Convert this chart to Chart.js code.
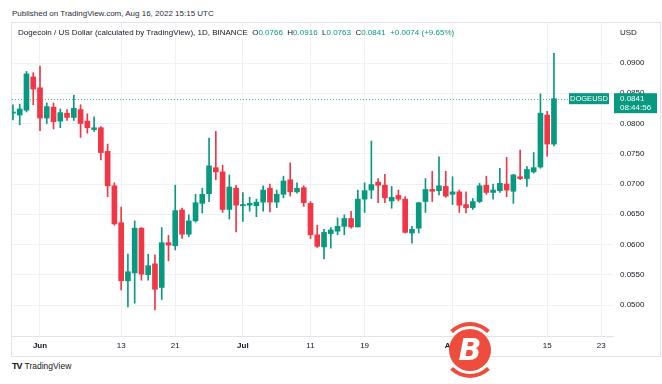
<!DOCTYPE html>
<html>
<head>
<meta charset="utf-8">
<script src="https://cdn.jsdelivr.net/npm/chart.js@4.4.0/dist/chart.umd.min.js"></script>
<style>
  body { margin: 0; width: 662px; height: 384px; background: #fff; position: relative; overflow: hidden;
         font-family: "Liberation Sans", Arial, sans-serif; color: #131722; }
  #published { position: absolute; left: 12px; top: 9px; font-size: 8px; color: #2a2e39; }
  #frame { position: absolute; left: 11px; top: 22px; width: 648px; height: 333px; border: 1px solid #e0e3eb; }
  #chartBox { position: absolute; left: 12px; top: 23px; }
  #legend { position: absolute; left: 18px; top: 28px; font-size: 8px; white-space: pre; color: #131722; }
  #legend .g { color: #089981; }
  #usd { position: absolute; left: 620px; top: 28px; font-size: 8px; }
  #logo { position: absolute; left: 12px; top: 361px; font-size: 8.5px; color: #131722; }
  #logo b { font-size: 9px; letter-spacing: -1px; margin-right: 3px; font-weight: 900; }
  #ring { position: absolute; left: 442px; top: 322px; width: 48px; height: 48px; border: 4px solid;
          border-color: #ee4c3c transparent; border-radius: 50%; }
  #coin { position: absolute; left: 449px; top: 329px; width: 42px; height: 42px; border-radius: 50%;
          background: #ee4c3c; color: #fff; font: italic bold 30px "DejaVu Sans", sans-serif;
          text-align: center; line-height: 42px; }
</style>
</head>
<body>
<div id="published">Published on TradingView.com, Aug 16, 2022 15:15 UTC</div>
<div id="frame"></div>
<div id="chartBox"><canvas id="myChart" width="647" height="333"></canvas></div>
<div id="legend">Dogecoin / US Dollar (calculated by TradingView), 1D, BINANCE  O<span class="g">0.0766</span>  H<span class="g">0.0916</span>  L<span class="g">0.0763</span>  C<span class="g">0.0841</span>  <span class="g">+0.0074 (+9.65%)</span></div>
<div id="usd">USD</div>
<div id="logo"><b>TV</b>TradingView</div>
<div id="ring"></div>
<div id="coin">B</div>

<script>
// days counted from 1 Jun 2022, first candle is 28 May
const firstDay = -4;

const openP = [
  0.0817, 0.0814, 0.0822, 0.0877, 0.0859, 0.0809, 0.0827, 0.0804, 0.0817, 0.0810,
  0.0823, 0.0804, 0.0790, 0.0793, 0.0754, 0.0697, 0.0636, 0.0540, 0.0553, 0.0627,
  0.0550, 0.0568, 0.0529, 0.0603, 0.0598, 0.0657, 0.0617, 0.0639, 0.0668, 0.0684,
  0.0727, 0.0720, 0.0658, 0.0693, 0.0664, 0.0665, 0.0664, 0.0670, 0.0693, 0.0670,
  0.0683, 0.0707, 0.0687, 0.0694, 0.0668, 0.0616, 0.0596, 0.0618, 0.0622, 0.0630,
  0.0643, 0.0629, 0.0675, 0.0690, 0.0703, 0.0698, 0.0672, 0.0681, 0.0675, 0.0619,
  0.0627, 0.0671, 0.0691, 0.0689, 0.0696, 0.0683, 0.0687, 0.0666, 0.0661, 0.0671,
  0.0698, 0.0686, 0.0689, 0.0700, 0.0688, 0.0712, 0.0709, 0.0720, 0.0728, 0.0814,
  0.0766
];
const highP = [
  0.0831, 0.0832, 0.0886, 0.0884, 0.0895, 0.0834, 0.0834, 0.0824, 0.0823, 0.0847,
  0.0831, 0.0816, 0.0811, 0.0795, 0.0766, 0.0702, 0.0662, 0.0584, 0.0639, 0.0628,
  0.0584, 0.0583, 0.0628, 0.0615, 0.0698, 0.0660, 0.0649, 0.0683, 0.0693, 0.0776,
  0.0787, 0.0731, 0.0715, 0.0698, 0.0686, 0.0678, 0.0675, 0.0697, 0.0700, 0.0690,
  0.0713, 0.0735, 0.0702, 0.0697, 0.0671, 0.0632, 0.0625, 0.0628, 0.0644, 0.0649,
  0.0655, 0.0690, 0.0702, 0.0771, 0.0709, 0.0716, 0.0696, 0.0690, 0.0679, 0.0630,
  0.0670, 0.0709, 0.0721, 0.0745, 0.0721, 0.0712, 0.0690, 0.0687, 0.0676, 0.0701,
  0.0713, 0.0700, 0.0726, 0.0744, 0.0716, 0.0756, 0.0729, 0.0752, 0.0849, 0.0820,
  0.0916
];
const lowP = [
  0.0806, 0.0798, 0.0819, 0.0831, 0.0788, 0.0800, 0.0791, 0.0793, 0.0805, 0.0805,
  0.0777, 0.0784, 0.0787, 0.0740, 0.0679, 0.0632, 0.0525, 0.0497, 0.0503, 0.0541,
  0.0541, 0.0492, 0.0509, 0.0573, 0.0591, 0.0610, 0.0613, 0.0637, 0.0652, 0.0671,
  0.0707, 0.0653, 0.0642, 0.0621, 0.0638, 0.0655, 0.0646, 0.0655, 0.0654, 0.0661,
  0.0677, 0.0680, 0.0685, 0.0663, 0.0610, 0.0595, 0.0576, 0.0594, 0.0616, 0.0616,
  0.0627, 0.0629, 0.0653, 0.0676, 0.0669, 0.0669, 0.0660, 0.0672, 0.0619, 0.0602,
  0.0619, 0.0653, 0.0671, 0.0682, 0.0678, 0.0666, 0.0653, 0.0652, 0.0658, 0.0669,
  0.0683, 0.0675, 0.0686, 0.0679, 0.0668, 0.0707, 0.0696, 0.0718, 0.0726, 0.0746,
  0.0763
];
const closeP = [
  0.0819, 0.0824, 0.0882, 0.0857, 0.0809, 0.0828, 0.0803, 0.0818, 0.0810, 0.0825,
  0.0800, 0.0793, 0.0793, 0.0752, 0.0697, 0.0634, 0.0540, 0.0555, 0.0627, 0.0551,
  0.0565, 0.0526, 0.0603, 0.0599, 0.0656, 0.0617, 0.0639, 0.0669, 0.0683, 0.0730,
  0.0720, 0.0658, 0.0695, 0.0665, 0.0666, 0.0668, 0.0670, 0.0690, 0.0670, 0.0683,
  0.0705, 0.0687, 0.0693, 0.0669, 0.0616, 0.0597, 0.0620, 0.0624, 0.0630, 0.0643,
  0.0629, 0.0675, 0.0689, 0.0699, 0.0698, 0.0677, 0.0678, 0.0675, 0.0620, 0.0625,
  0.0669, 0.0691, 0.0688, 0.0697, 0.0680, 0.0687, 0.0665, 0.0661, 0.0671, 0.0697,
  0.0686, 0.0690, 0.0701, 0.0690, 0.0715, 0.0709, 0.0724, 0.0727, 0.0817, 0.0766,
  0.0841
];

const tickDays = [0, 12, 20, 30, 40, 48, 61, 75, 83];
const tickLabels = ['Jun', '13', '21', 'Jul', '11', '19', 'Aug', '15', '23'];
const priceTicks = [0.0500, 0.0550, 0.0600, 0.0650, 0.0700, 0.0750, 0.0800, 0.0850, 0.0900];

const upColor = '#089981';
const downColor = '#f23645';
const gridColor = '#eff1f5';

let colores = openP.map((o, i) => closeP[i] >= o ? upColor : downColor);
let cuerpos = openP.map((o, i) => ({ x: firstDay + i, y: [o, closeP[i]] }));
let mechas = lowP.map((l, i) => ({ x: firstDay + i, y: [l, highP[i]] }));
let ultimo = closeP[closeP.length - 1];

// dotted last-price line and the two price tags on the right
const precioActual = {
    id: 'precioActual',
    beforeDatasetsDraw(chart) {
        const ctx = chart.ctx;
        const y = Math.round(chart.scales.y.getPixelForValue(ultimo)) + 0.5;
        ctx.save();
        ctx.strokeStyle = 'rgba(8, 153, 129, 0.75)';
        ctx.lineWidth = 1;
        ctx.setLineDash([1, 2]);
        ctx.beginPath();
        ctx.moveTo(chart.chartArea.left, y);
        ctx.lineTo(chart.chartArea.right - 44, y);
        ctx.stroke();
        ctx.restore();
    },
    afterDraw(chart) {
        const ctx = chart.ctx;
        const y = chart.scales.y.getPixelForValue(ultimo);
        const r = chart.chartArea.right;
        ctx.save();
        ctx.fillStyle = upColor;
        ctx.fillRect(r - 44, y - 5.5, 40, 11);
        ctx.fillRect(r + 1, y - 5.5, 43, 20);
        ctx.fillStyle = '#fff';
        ctx.font = '7.5px "Liberation Sans", Arial, sans-serif';
        ctx.textBaseline = 'middle';
        ctx.textAlign = 'center';
        ctx.fillText('DOGEUSD', r - 24, y + 0.5);
        ctx.font = '8px "Liberation Sans", Arial, sans-serif';
        ctx.textAlign = 'left';
        ctx.fillText(ultimo.toFixed(4), r + 7, y + 0.5);
        ctx.fillText('08:44:56', r + 7, y + 9.5);
        ctx.restore();
    }
};

const ctx = document.getElementById('myChart').getContext('2d');
const grafica = new Chart(ctx, {
    type: 'bar',
    data: {
        datasets: [{
            data: cuerpos,
            backgroundColor: colores,
            barThickness: 5,
            minBarLength: 1,
            grouped: false,
            borderWidth: 0
        }, {
            data: mechas,
            backgroundColor: colores,
            barThickness: 1,
            grouped: false,
            borderWidth: 0
        }]
    },
    options: {
        responsive: false,
        animation: false,
        devicePixelRatio: 1,
        layout: { padding: 0 },
        plugins: { legend: { display: false }, tooltip: { enabled: false } },
        scales: {
            x: {
                type: 'linear',
                min: -4.14,
                max: 84.73,
                offset: false,
                grid: { color: gridColor, drawTicks: false, offset: false },
                border: { display: true, color: '#e0e3eb' },
                afterBuildTicks: (scale) => { scale.ticks = tickDays.map(v => ({ value: v })); },
                afterFit: (scale) => { scale.height = 20; scale.paddingLeft = 0; scale.paddingRight = 0; },
                ticks: {
                    autoSkip: false,
                    maxRotation: 0,
                    padding: 5,
                    color: '#131722',
                    font: (c) => ({ family: '"Liberation Sans", Arial, sans-serif', size: 8,
                                    weight: (c.tick && [0, 30, 61].includes(c.tick.value)) ? 'bold' : 'normal' }),
                    callback: (v) => tickLabels[tickDays.indexOf(v)]
                }
            },
            y: {
                position: 'right',
                min: 0.044876,
                max: 0.096612,
                grid: { color: gridColor, drawTicks: false },
                border: { display: false },
                afterBuildTicks: (scale) => { scale.ticks = priceTicks.map(v => ({ value: v })); },
                afterFit: (scale) => { scale.width = 46; scale.paddingTop = 0; scale.paddingBottom = 0; },
                ticks: {
                    padding: 7,
                    color: '#131722',
                    font: { family: '"Liberation Sans", Arial, sans-serif', size: 8 },
                    callback: (v) => v.toFixed(4)
                }
            }
        }
    },
    plugins: [precioActual]
});
</script>
</body>
</html>
